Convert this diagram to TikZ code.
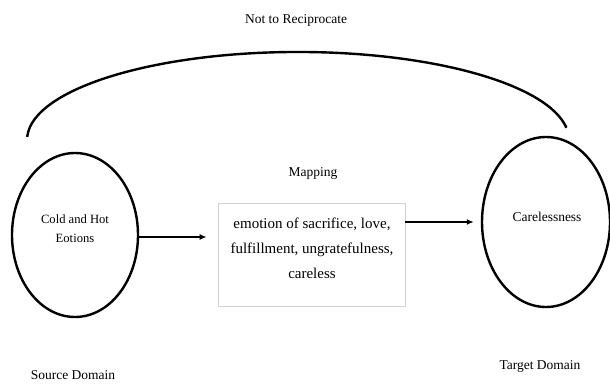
\documentclass[tikz,border=0pt]{standalone}
\usepackage{fontspec}
\setmainfont{Liberation Serif}
\usetikzlibrary{shapes.geometric,arrows.meta}
\begin{document}
\begin{tikzpicture}[x=1pt,y=-1pt,
  domainshape/.style={draw=black,line width=2.4pt,ellipse,inner sep=0pt},
  lbl/.style={font=\fontsize{13.5}{16}\selectfont,inner sep=0pt,align=center},
  mapbox/.style={draw=black!18,line width=0.8pt,inner sep=0pt,
    minimum width=187pt,minimum height=103pt},
  arr/.style={line width=1.3pt,-{Latex[length=7pt,width=6pt]}},
  bracket/.style={line width=2.4pt}]
\useasboundingbox (0,0) rectangle (610,383);

% the two domains and the mapping box
\node[domainshape,minimum width=126pt,minimum height=164pt] (src) at (75,235) {};
\node[domainshape,minimum width=128pt,minimum height=170pt] (tgt) at (546,222) {};
\node[mapbox] (box) at (311.5,254.5) {};

% texts
\node[lbl,font=\fontsize{12.6}{19}\selectfont] (srctext) at (75,229) {Cold and Hot\\Eotions};
\node[lbl] (tgttext) at (547,217) {Carelessness};
\node[lbl,font=\fontsize{15}{25}\selectfont] (boxtext) at (312,248)
  {emotion of sacrifice, love,\\fulfillment, ungratefulness,\\careless};
\node[lbl] (maplbl) at (313,173) {Mapping};
\node[lbl] (toplbl) at (296,20) {Not to Reciprocate};
\node[lbl] (srclbl) at (73,375) {Source Domain};
\node[lbl] (tgtlbl) at (540,366) {Target Domain};

% connectors
\draw[arr,shorten >=11pt] ([yshift=-2pt]src.east) -- ([yshift=-2pt]src.east -| box.west);
\draw[arr,shorten >=7pt] (box.east |- tgt) -- (tgt.west);

% arch joining both domains
\coordinate (archstart) at (27.2,136.9);
\draw[bracket] (archstart) arc[start angle=182,end angle=352,x radius=271,y radius=88];
\end{tikzpicture}
\end{document}
